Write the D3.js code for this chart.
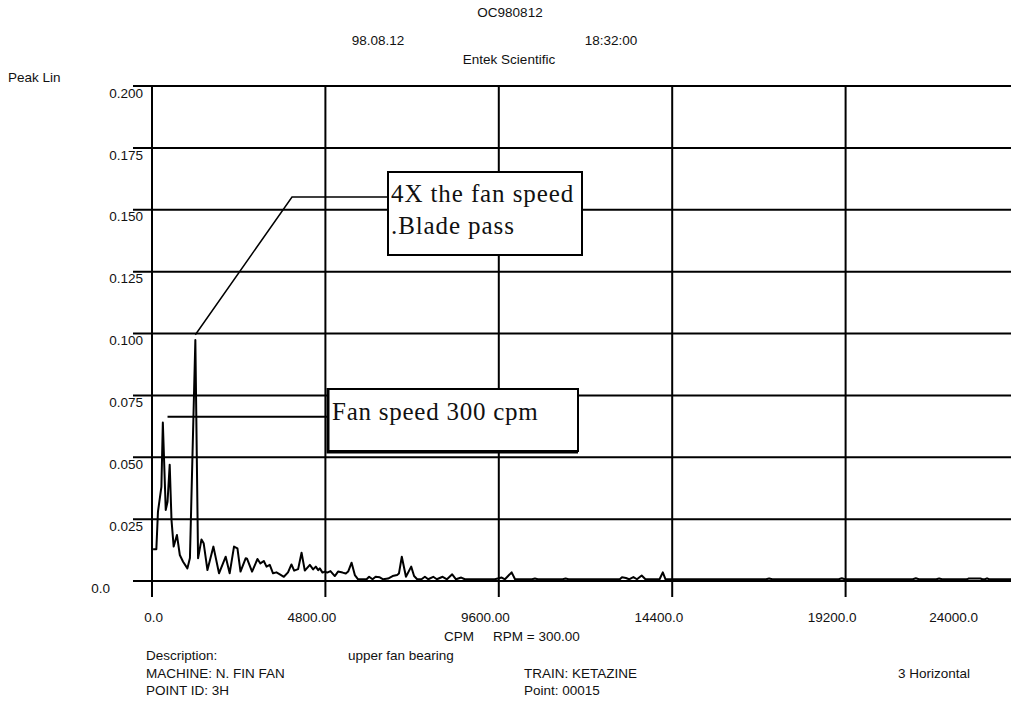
<!DOCTYPE html>
<html>
<head>
<meta charset="utf-8">
<script src="https://cdn.jsdelivr.net/npm/d3@7"></script>
<style>
  body { margin: 0; background: #fff; }
  svg { display: block; }
  text { font-family: Arial, "Liberation Sans", sans-serif; fill: #111; }
</style>
</head>
<body>
<div id="chart"></div>
<script>
// spectrum: [CPM, peak amplitude]
const spectrumCpm = [
  30, 120, 165, 260, 300, 380, 430, 490, 540, 600, 690, 770, 860, 980, 1050, 1200, 1275, 1370, 1430, 1535,
  1700, 1855, 2040, 2150, 2270, 2365, 2450, 2595, 2630, 2770, 2920, 3000, 3095, 3170, 3260, 3350, 3445, 3540, 3650, 3765,
  3860, 3935, 4045, 4140, 4230, 4370, 4460, 4535, 4600, 4645, 4720, 4785, 4850, 4940, 5060, 5150, 5275, 5365, 5430, 5525,
  5615, 5705, 5845, 5940, 6010, 6105, 6190, 6305, 6400, 6535, 6660, 6785, 6835, 6915, 7030, 7175, 7255, 7340, 7460, 7555,
  7645, 7785, 7885, 8045, 8165, 8310, 8415, 8560, 8660, 9080, 9490, 9680, 9770, 9955, 10050, 10520, 10600, 10680, 11370, 11450,
  11530, 12950, 13010, 13120, 13205, 13325, 13425, 13555, 13660, 14050, 14140, 14215, 17000, 17085, 17170, 19010, 19095, 19180, 21060, 21145,
  21230, 21710, 21790, 21870, 22560, 22600, 22930, 22990, 23060, 23115, 23170, 24000
];
const spectrumAmp = [
  0.0128, 0.0128, 0.0280, 0.0380, 0.0640, 0.0287, 0.0320, 0.0470, 0.0246, 0.0139, 0.0186, 0.0105, 0.0078, 0.0051, 0.0093, 0.0974, 0.0092, 0.0168, 0.0153, 0.0044,
  0.0139, 0.0031, 0.0098, 0.0031, 0.0139, 0.0132, 0.0038, 0.0092, 0.0090, 0.0038, 0.0089, 0.0071, 0.0081, 0.0058, 0.0065, 0.0031, 0.0035, 0.0027, 0.0017, 0.0035,
  0.0067, 0.0042, 0.0048, 0.0114, 0.0042, 0.0065, 0.0047, 0.0058, 0.0044, 0.0051, 0.0034, 0.0038, 0.0034, 0.0040, 0.0020, 0.0038, 0.0034, 0.0030, 0.0038, 0.0074,
  0.0024, 0.0007, 0.0007, 0.0007, 0.0017, 0.0007, 0.0017, 0.0015, 0.0007, 0.0010, 0.0020, 0.0024, 0.0030, 0.0098, 0.0017, 0.0058, 0.0020, 0.0007, 0.0007, 0.0017,
  0.0007, 0.0017, 0.0007, 0.0017, 0.0007, 0.0027, 0.0007, 0.0014, 0.0007, 0.0007, 0.0007, 0.0014, 0.0007, 0.0035, 0.0007, 0.0007, 0.0010, 0.0007, 0.0007, 0.0010,
  0.0007, 0.0007, 0.0015, 0.0012, 0.0007, 0.0016, 0.0007, 0.0022, 0.0007, 0.0007, 0.0035, 0.0007, 0.0007, 0.0010, 0.0007, 0.0007, 0.0011, 0.0007, 0.0007, 0.0011,
  0.0007, 0.0007, 0.0010, 0.0007, 0.0007, 0.0010, 0.0010, 0.0007, 0.0007, 0.0011, 0.0007, 0.0007
];

const yTicks = [0, 0.025, 0.05, 0.075, 0.1, 0.125, 0.15, 0.175, 0.2];
const yTickLabels = ["0.0", "0.025", "0.050", "0.075", "0.100", "0.125", "0.150", "0.175", "0.200"];
const xTicks = [0, 4800, 9600, 14400, 19200, 24000];
const xTickLabels = ["0.0", "4800.00", "9600.00", "14400.0", "19200.0", "24000.0"];

const notes = [
  { cpm: 1200, amp: 0.0995, lines: ["4X the fan speed", ".Blade pass"] },
  { cpm: 430, amp: 0.0664, lines: ["Fan speed 300 cpm"] }
];

const width = 1011, height = 713;
const fs = 13.5;

const svg = d3.select("#chart").append("svg")
  .attr("width", width)
  .attr("height", height);

svg.append("rect").attr("width", width).attr("height", height).attr("fill", "#fff");

const x = d3.scaleLinear().domain([0, 24000]).range([152, 1019]);
const y = d3.scaleLinear().domain([0, 0.2]).range([581, 86]);

// grid (lines run past the axes like tick marks)
svg.append("g")
  .selectAll("line")
  .data(yTicks)
  .join("line")
  .attr("x1", 133)
  .attr("x2", x(24000))
  .attr("y1", d => y(d))
  .attr("y2", d => y(d))
  .attr("stroke", "#000")
  .attr("stroke-width", 2);

svg.append("g")
  .selectAll("line")
  .data(xTicks)
  .join("line")
  .attr("x1", d => x(d))
  .attr("x2", d => x(d))
  .attr("y1", y(0.2))
  .attr("y2", y(0) + 16)
  .attr("stroke", "#000")
  .attr("stroke-width", 2);

// tick labels
svg.append("g")
  .selectAll("text")
  .data(yTicks)
  .join("text")
  .attr("x", d => d === 0 ? 110 : 143)
  .attr("y", d => y(d) + 7)
  .attr("dy", "0.35em")
  .attr("text-anchor", "end")
  .attr("font-size", fs)
  .text((d, i) => yTickLabels[i]);

svg.append("g")
  .selectAll("text")
  .data(xTicks)
  .join("text")
  .attr("x", d => Math.min(x(d) + 11, 978))
  .attr("y", 617)
  .attr("dy", "0.35em")
  .attr("text-anchor", "end")
  .attr("font-size", fs)
  .text((d, i) => xTickLabels[i]);

// spectrum
const spectrum = spectrumCpm.map((c, i) => [c, spectrumAmp[i]]);
svg.append("path")
  .datum(spectrum)
  .attr("fill", "none")
  .attr("stroke", "#000")
  .attr("stroke-width", 2)
  .attr("stroke-linejoin", "round")
  .attr("d", d3.line().x(d => x(d[0])).y(d => y(d[1])));

// annotations
const serif = "'Liberation Serif', 'Times New Roman', serif";
const a1 = notes[0], a2 = notes[1];
svg.append("polyline")
  .attr("points", [[x(a1.cpm), y(a1.amp)], [292, 197], [388, 197]].map(p => p.join(",")).join(" "))
  .attr("fill", "none")
  .attr("stroke", "#000")
  .attr("stroke-width", 1.5);
svg.append("rect")
  .attr("x", 388).attr("y", 172).attr("width", 194).attr("height", 83)
  .attr("fill", "#fff").attr("stroke", "#000").attr("stroke-width", 2);
svg.append("g")
  .selectAll("text")
  .data(a1.lines)
  .join("text")
  .attr("x", 391)
  .attr("y", (d, i) => 202 + i * 32)
  .style("font-family", serif)
  .style("letter-spacing", "0.9px")
  .attr("font-size", 25)
  .text(d => d);

svg.append("line")
  .attr("x1", x(a2.cpm)).attr("x2", 328)
  .attr("y1", y(a2.amp)).attr("y2", y(a2.amp))
  .attr("stroke", "#000").attr("stroke-width", 2);
svg.append("rect")
  .attr("x", 328).attr("y", 389).attr("width", 250).attr("height", 62)
  .attr("fill", "#fff").attr("stroke", "#000").attr("stroke-width", 2);
svg.append("path")
  .attr("d", "M328,388V452H578")
  .attr("fill", "none").attr("stroke", "#000").attr("stroke-width", 3);
svg.append("text")
  .attr("x", 332)
  .attr("y", 420)
  .style("font-family", serif)
  .style("letter-spacing", "0.75px")
  .attr("font-size", 25)
  .text(a2.lines[0]);

// header and footer texts
const texts = [
  ["OC980812", 510, 12, "middle"],
  ["98.08.12", 378, 40, "middle"],
  ["18:32:00", 611, 40, "middle"],
  ["Entek Scientific", 509, 59, "middle"],
  ["Peak Lin", 8, 77, "start"],
  ["CPM", 444, 636, "start"],
  ["RPM = 300.00", 493, 636, "start"],
  ["Description:", 146, 655, "start"],
  ["upper fan bearing", 348, 655, "start"],
  ["MACHINE: N. FIN FAN", 146, 673, "start"],
  ["TRAIN: KETAZINE", 524, 673, "start"],
  ["3 Horizontal", 898, 673, "start"],
  ["POINT ID: 3H", 146, 690, "start"],
  ["Point: 00015", 524, 690, "start"]
];
svg.append("g")
  .selectAll("text")
  .data(texts)
  .join("text")
  .attr("x", d => d[1])
  .attr("y", d => d[2])
  .attr("dy", "0.35em")
  .attr("text-anchor", d => d[3])
  .attr("font-size", fs)
  .text(d => d[0]);
</script>
</body>
</html>
